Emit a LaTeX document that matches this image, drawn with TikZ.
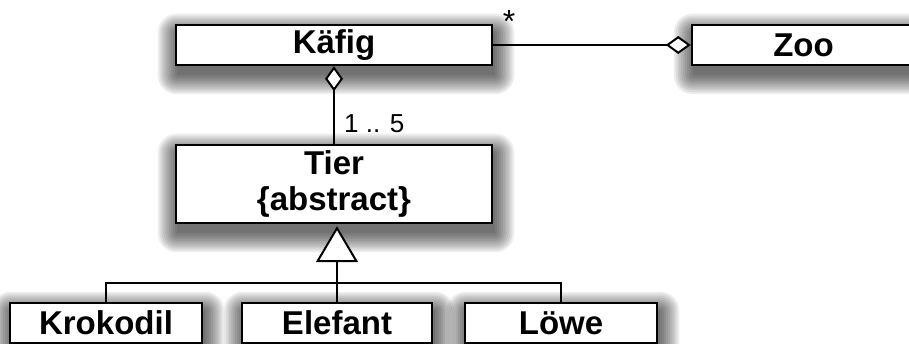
\documentclass[tikz,border=0pt]{standalone}
\usepackage{fontspec}
\setmainfont{Liberation Sans}
\usetikzlibrary{arrows.meta,backgrounds}

\tikzset{
  umlbox/.style={rectangle, draw=black, line width=2.5pt, fill=white,
    inner sep=0pt, align=center,
    font=\bfseries\fontsize{33}{36}\selectfont},
  link/.style={draw=black, line width=2pt},
  agg/.style={-{Diamond[fill=white, length=25pt, width=18pt]}},
  gen/.style={-{Triangle[fill=white, length=36pt, width=42pt]}},
  mult/.style={font=\fontsize{26}{30}\selectfont, inner sep=0pt},
  shadowlayer/.style={fill=black, fill opacity=0.07},
}

% soft drop shadow: stacked translucent rectangles, offset down
\newcommand{\softshadow}[1]{%
  \begin{pgfonlayer}{background}
    \foreach \r in {0,1.9,...,19}{
      \fill[shadowlayer, rounded corners=\r pt]
        ([shift={(2-\r,9-\r)}]#1.north west) rectangle
        ([shift={(2+\r,9+\r)}]#1.south east);
    }
  \end{pgfonlayer}}

\begin{document}
\begin{tikzpicture}[x=1pt, y=-1pt]
  \useasboundingbox (0,0) rectangle (909,344);

  % classes
  \node[umlbox, minimum width=316pt, minimum height=40pt] (kaefig) at (334,45) {Käfig};
  \node[umlbox, minimum width=223pt, minimum height=40pt] (zoo) at (803.5,45) {Zoo};
  \node[umlbox, minimum width=316pt, minimum height=78pt] (tier) at (334,184) {Tier\\\{abstract\}};
  \node[umlbox, minimum width=192pt, minimum height=40pt] (krokodil) at (106,323) {Krokodil};
  \node[umlbox, minimum width=190pt, minimum height=40pt] (elefant) at (337,323) {Elefant};
  \node[umlbox, minimum width=192pt, minimum height=40pt] (loewe) at (561,323) {Löwe};

  \softshadow{kaefig}
  \softshadow{zoo}
  \softshadow{tier}
  \softshadow{krokodil}
  \softshadow{elefant}
  \softshadow{loewe}

  % aggregations
  \draw[link, agg] (kaefig.east) -- (zoo.west);
  \node[mult, font=\fontsize{32}{32}\selectfont, anchor=base] (star) at (509,33) {*};
  \draw[link, agg] (tier.north) -- (kaefig.south);
  \node[mult, anchor=base west] (range) at (344,133) {1 .. 5};

  % generalization
  \coordinate (j) at (337,283);
  \draw[link] (krokodil.north) |- (j) -| (loewe.north);
  \draw[link, gen, shorten >=2pt] (elefant.north) -- (elefant.north |- tier.south);
\end{tikzpicture}
\end{document}
